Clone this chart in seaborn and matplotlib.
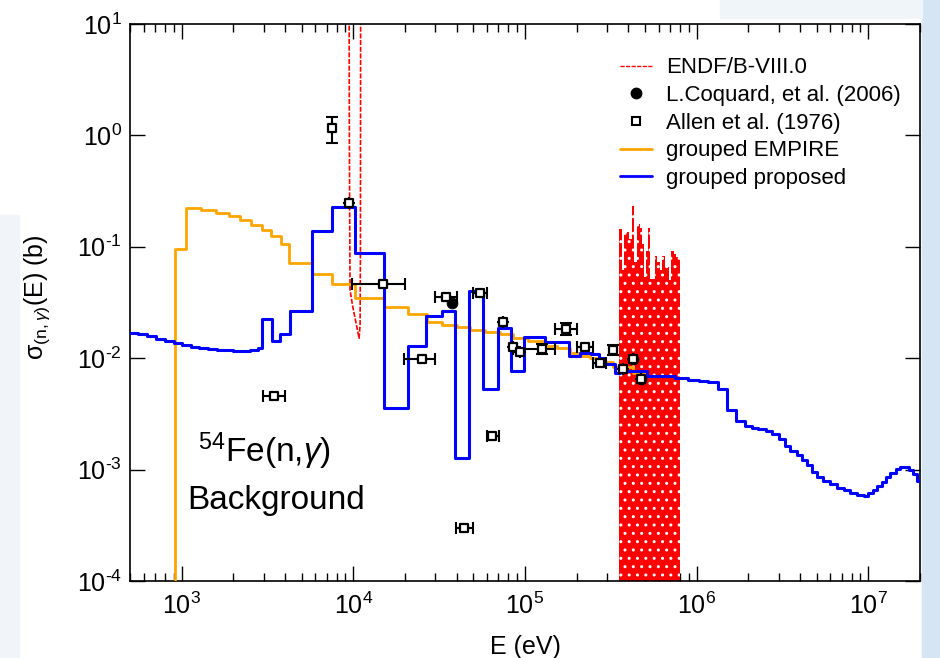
# Sección eficaz de captura del 54Fe: ENDF, datos experimentales y curvas agrupadas
import numpy as np
import pandas as pd
import matplotlib
matplotlib.use("Agg")
import matplotlib.pyplot as plt
import seaborn as sns
from matplotlib.lines import Line2D
from matplotlib.patches import Rectangle
from matplotlib.ticker import FuncFormatter

# ---- Datos ----
# grupo "proposed" (bordes en eV, valores en b)
bordes_prop = [500, 560, 630, 710, 800, 900, 1000, 1130, 1270, 1430, 1600, 1800, 2000, 2250,
               2500, 2800, 2930, 3360, 3740, 4260, 5770, 7480, 10280, 15170, 20950, 26560,
               32750, 39150, 47230, 57250, 70000, 82650, 98800, 131000, 181400, 209600,
               241500, 270000, 293000, 335000, 358000, 428500, 513000, 750000, 896000,
               1.025e6, 1.17e6, 1.34e6, 1.51e6, 1.70e6, 1.90e6, 2.10e6, 2.29e6, 2.54e6,
               2.74e6, 3.00e6, 3.28e6, 3.51e6, 3.84e6, 4.10e6, 4.39e6, 4.69e6, 5.01e6,
               5.48e6, 6.00e6, 6.56e6, 7.17e6, 7.85e6, 8.58e6, 9.38e6, 1.00e7, 1.07e7,
               1.13e7, 1.20e7, 1.27e7, 1.34e7, 1.44e7, 1.53e7, 1.64e7, 1.72e7, 1.82e7,
               1.92e7, 2.00e7]
valores_prop = [0.0168, 0.0164, 0.0157, 0.0150, 0.0143, 0.0137, 0.0131, 0.0127, 0.0124,
                0.0121, 0.0119, 0.0118, 0.0117, 0.0117, 0.0119, 0.0123, 0.0224, 0.0144,
                0.0165, 0.0265, 0.139, 0.226, 0.0875, 0.00355, 0.0130, 0.0239, 0.0265,
                0.00128, 0.0404, 0.0053, 0.0185, 0.0077, 0.0154, 0.0139, 0.0104, 0.0111,
                0.0109, 0.0100, 0.0088, 0.0074, 0.0077, 0.0076, 0.0069, 0.0066, 0.0064,
                0.0062, 0.0061, 0.0053, 0.0034, 0.00272, 0.00247, 0.00236, 0.00232,
                0.00223, 0.00208, 0.00190, 0.00163, 0.00148, 0.00134, 0.00121, 0.00109,
                0.00095, 0.00086, 0.00079, 0.00074, 0.00069, 0.00065, 0.00062, 0.000587,
                0.00058, 0.00062, 0.00066, 0.00071, 0.00078, 0.00086, 0.00094, 0.00101,
                0.00105, 0.00105, 0.00099, 0.00091, 0.00079]

# grupo EMPIRE
bordes_empire = [500, 914, 1055, 1296, 1577, 1887, 2195, 2532, 2927, 3316, 3791, 4236, 5771,
                 7482, 10280, 15170, 20950, 26800, 32700, 40100, 47900, 58500, 71600, 85600,
                 104600, 128000, 153000, 183000, 209600, 239600, 274000, 327500, 428500,
                 513000]
valores_empire = [1e-6, 0.095, 0.224, 0.214, 0.202, 0.189, 0.174, 0.157, 0.142, 0.125, 0.106,
                  0.072, 0.057, 0.046, 0.0347, 0.0286, 0.0249, 0.0213, 0.0199, 0.0189,
                  0.0179, 0.0173, 0.0165, 0.0153, 0.0144, 0.0129, 0.0123, 0.0111, 0.0105,
                  0.00998, 0.0093, 0.0084, 0.0073]

# ENDF/B-VIII.0: resonancia cerca de 10 keV
endf_E = [9450, 9480, 9520, 9570, 9920, 10470, 10800, 10950, 11000, 11030]
endf_sig = [20, 1.0, 0.2, 0.0409, 0.029, 0.0192, 0.0151, 0.02, 0.1, 20]

# ENDF/B-VIII.0: zona de resonancias densas (envolvente superior)
banda_E = [355000, 368000, 378000, 392000, 404000, 419000, 434000, 448000, 465000, 480000,
           495000, 508000, 520000, 536000, 553000, 573000, 591000, 613000, 632000, 655000,
           670000, 691000, 707000, 733000, 757000, 784000, 805000]
banda_max = [0.144, 0.062, 0.132, 0.137, 0.117, 0.234, 0.073, 0.159, 0.148, 0.107, 0.054,
             0.092, 0.148, 0.051, 0.051, 0.083, 0.073, 0.062, 0.083, 0.066, 0.066, 0.05,
             0.091, 0.086, 0.081, 0.078]

# L.Coquard et al. (2006)
coquard_E = [37400, 424700, 473000]
coquard_sig = [0.0311, 0.0098, 0.0065]

# Allen et al. (1976): energía, sigma, límites de error
allen_E = [3467, 7480, 9490, 14960, 25060, 34700, 44200, 54700, 64600, 74800, 84900, 93600,
           125300, 173800, 224000, 274000, 325000, 371600, 424700, 473000]
allen_sig = [0.00458, 1.16, 0.2456, 0.0463, 0.00985, 0.0357, 0.000299, 0.0383, 0.0020, 0.0210,
             0.0127, 0.0114, 0.0121, 0.0182, 0.0127, 0.0090, 0.0119, 0.0080, 0.0098, 0.0065]
allen_E_lo = [2990, 7480, 9490, 9860, 19800, 29900, 39600, 49600, 59800, 74800, 84900, 93600,
              85000, 149600, 200400, 250000, 325000, 371600, 424700, 473000]
allen_E_hi = [4000, 7480, 9490, 20000, 29950, 40100, 49800, 60400, 70600, 74800, 84900, 93600,
              150000, 200400, 250000, 297000, 325000, 371600, 424700, 473000]
allen_sig_lo = [0.00458, 0.85, 0.2456, 0.0463, 0.00985, 0.0357, 0.000299, 0.0383, 0.0020,
                0.0210, 0.0127, 0.0114, 0.0110, 0.0161, 0.0127, 0.0090, 0.0107, 0.0080,
                0.0098, 0.0065]
allen_sig_hi = [0.00458, 1.45, 0.2456, 0.0463, 0.00985, 0.0357, 0.000299, 0.0383, 0.0020,
                0.0210, 0.0127, 0.0114, 0.0133, 0.0207, 0.0127, 0.0090, 0.0132, 0.0080,
                0.0098, 0.0065]


def escalera(bordes, valores):
    # repetir el último valor para dibujar con steps-post
    return pd.DataFrame({"E": np.asarray(bordes, dtype=float),
                         "sig": np.append(valores, valores[-1])})


def potencia_diez(v, pos):
    # etiqueta 10^n con guion corto, como en el original
    n = int(round(np.log10(v)))
    exp = str(n) if n >= 0 else r"\text{-}" + str(-n)
    return r"$\mathdefault{10^{" + exp + "}}$"


sns.set_theme(style="ticks")
plt.rcParams["font.family"] = ["Liberation Sans", "DejaVu Sans"]
plt.rcParams["mathtext.fontset"] = "custom"
plt.rcParams["mathtext.rm"] = "Liberation Sans"
plt.rcParams["mathtext.it"] = "Liberation Sans:italic"
plt.rcParams["mathtext.bf"] = "Liberation Sans:bold"
plt.rcParams["axes.unicode_minus"] = False
plt.rcParams["hatch.linewidth"] = 1.0
for clave in ["text.color", "axes.labelcolor", "xtick.color", "ytick.color", "axes.edgecolor"]:
    plt.rcParams[clave] = "black"

fig = plt.figure(figsize=(9.4, 6.58), dpi=100)
fig.patch.set_facecolor("white")
# restos del fondo de la diapositiva
fig.patches.append(Rectangle((922 / 940, 0), 18 / 940, 1, transform=fig.transFigure,
                             color="#d5e5f3", zorder=-10))
fig.patches.append(Rectangle((720 / 940, 1 - 18 / 658), 202 / 940, 18 / 658,
                             transform=fig.transFigure, color="#f0f5fa", zorder=-10))
fig.patches.append(Rectangle((0, 0), 19 / 940, 1 - 215 / 658, transform=fig.transFigure,
                             color="#f1f4f9", zorder=-10))

ax = fig.add_axes([130 / 940, 1 - 581 / 658, 790 / 940, 557 / 658])
ax.set_xscale("log")
ax.set_yscale("log")

# banda de resonancias ENDF
bx = np.asarray(banda_E, dtype=float)
by = np.append(banda_max, banda_max[-1])
ax.fill_between(bx, 1e-6, by, step="post", facecolor="#ff0000", edgecolor="white",
                hatch="..", linewidth=0, zorder=1)

# resonancia ENDF
sns.lineplot(x=endf_E, y=endf_sig, ax=ax, color="#ff0000", lw=1.2, dashes=False,
             linestyle=(0, (3, 1)), estimator=None, sort=False, zorder=2)

# curvas agrupadas
df_emp = escalera(bordes_empire, valores_empire)
sns.lineplot(data=df_emp, x="E", y="sig", ax=ax, color="#ffa500", lw=2.0,
             drawstyle="steps-post", estimator=None, sort=False, zorder=3)
df_prop = escalera(bordes_prop, valores_prop)
sns.lineplot(data=df_prop, x="E", y="sig", ax=ax, color="#0000ff", lw=2.2,
             drawstyle="steps-post", estimator=None, sort=False, zorder=4)

# datos experimentales
aE = np.array(allen_E, dtype=float)
aS = np.array(allen_sig)
xerr = [aE - np.array(allen_E_lo), np.array(allen_E_hi) - aE]
yerr = [aS - np.array(allen_sig_lo), np.array(allen_sig_hi) - aS]
ax.errorbar(aE, aS, xerr=xerr, yerr=yerr, fmt="none", ecolor="black", elinewidth=1.5,
            capsize=4, capthick=1.5, zorder=5)
sns.scatterplot(x=coquard_E, y=coquard_sig, ax=ax, marker="o", s=60, color="black",
                edgecolor="black", zorder=6)
sns.scatterplot(x=allen_E, y=allen_sig, ax=ax, marker="s", s=28, facecolor="white",
                edgecolor="black", linewidth=1.6, zorder=7)

ax.set_xlim(500, 2e7)
ax.set_ylim(1e-4, 10)
ax.xaxis.set_major_formatter(FuncFormatter(potencia_diez))
ax.yaxis.set_major_formatter(FuncFormatter(potencia_diez))

ax.tick_params(which="both", direction="in", top=True, right=True, colors="black")
ax.tick_params(which="major", length=11, width=1.0, labelsize=18)
ax.tick_params(axis="x", which="major", pad=8)
ax.tick_params(axis="y", which="major", pad=6)
ax.tick_params(which="minor", length=5.5, width=1.0)
ax.tick_params(axis="y", which="minor", left=False, right=False)
for s in ax.spines.values():
    s.set_linewidth(1.2)
    s.set_color("black")

ax.set_xlabel("E (eV)", fontsize=18)
ax.xaxis.set_label_coords(0.5, -0.097)
ax.set_ylabel(r"σ$_{\mathrm{(n,}\gamma\mathrm{)}}$(E) (b)", fontsize=18)
ax.yaxis.set_label_coords(-0.099, 0.509)

# textos dentro del gráfico
fig.text(198 / 940, 1 - 462 / 658, r"$^{54}$Fe(n,$\gamma$)", fontsize=24, ha="left",
         va="baseline")
fig.text(187 / 940, 1 - 509 / 658, "Background", fontsize=24, ha="left", va="baseline")

# leyenda
manejadores = [
    Line2D([], [], color="#ff0000", lw=1.0, linestyle=(0, (3, 1))),
    Line2D([], [], ls="none", marker="o", color="black", ms=7.5),
    Line2D([], [], ls="none", marker="s", mfc="white", mec="black", ms=5.5, mew=1.5),
    Line2D([], [], color="#ffa500", lw=2.0),
    Line2D([], [], color="#0000ff", lw=2.0),
]
etiquetas = ["ENDF/B-VIII.0", "L.Coquard, et al. (2006)", "Allen et al. (1976)",
             "grouped EMPIRE", "grouped proposed"]
ax.legend(manejadores, etiquetas, loc="upper left", bbox_to_anchor=(0.62, 0.94),
          frameon=False, fontsize=16, handlelength=1.45, handletextpad=0.62,
          labelspacing=0.3, borderpad=0, borderaxespad=0)

fig.savefig("out.png", dpi=100)
